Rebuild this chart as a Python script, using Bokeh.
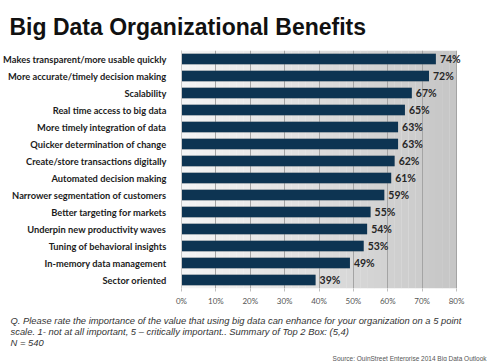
from bokeh.plotting import figure
from bokeh.models import ColumnDataSource, LabelSet, Range1d, FactorRange, FixedTicker, Title
from bokeh.core.properties import value
from bokeh.embed import file_html
from bokeh.resources import INLINE
import numpy as np

categories = [
    "Makes transparent/more usable quickly",
    "More accurate/timely decision making",
    "Scalability",
    "Real time access to big data",
    "More timely integration of data",
    "Quicker determination of change",
    "Create/store transactions digitally",
    "Automated decision making",
    "Narrower segmentation of customers",
    "Better targeting for markets",
    "Underpin new productivity waves",
    "Tuning of behavioral insights",
    "In-memory data management",
    "Sector oriented",
]
values = [74, 72, 67, 65, 63, 63, 62, 61, 59, 55, 54, 53, 49, 39]
tick_values = [0, 10, 20, 30, 40, 50, 60, 70, 80]
tick_labels = ["0%", "10%", "20%", "30%", "40%", "50%", "60%", "70%", "80%"]

title_text = "Big Data Organizational Benefits"
note1 = "Q. Please rate the importance of the value that using big data can enhance for your organization on a 5 point"
note2 = "scale. 1- not at all important, 5 \u2013 critically important..  Summary of Top 2 Box:  (5,4)"
note3 = "N = 540"
source_text = "Source: QuinStreet Enterprise 2014 Big Data Outlook"

W = 479
FL, FR = 173, 448
FW, FH = FR - FL, 238
EXTRA = 8  # px of white space right of the 80% line, so value labels are not clipped
NC = len(categories)
xmin, xmax = tick_values[0], tick_values[-1]
xpad = EXTRA * (xmax - xmin) / FW

src = ColumnDataSource(dict(cat=categories, val=values,
                            lab=[f"{v}%" for v in values]))

p = figure(frame_width=FW + EXTRA, frame_height=FH, output_backend="svg",
           toolbar_location=None,
           y_range=FactorRange(factors=categories[::-1]),
           x_range=Range1d(xmin, xmax + xpad),
           min_border_left=FL, min_border_right=W - FR - EXTRA,
           min_border_top=0, min_border_bottom=0)
p.outline_line_color = None
p.background_fill_color = "white"
p.border_fill_color = "white"

# title
p.title.text = title_text
p.title.align = "left"
p.title.offset = -FL + 1
p.title.text_font = "Liberation Sans"
p.title.text_font_size = "23px"
p.title.text_font_style = "bold"
p.title.text_color = "#111111"
p.title.standoff = 22

# background gradient strips (decoration)
edges = np.linspace(xmin, xmax, 41)
shades = np.linspace(245, 198, 40).astype(int)
cols = ["#%02x%02x%02x" % (s, s, s) for s in shades]
p.quad(left=edges[:-1], right=np.minimum(edges[1:] + 0.05, xmax), bottom=0, top=NC,
       color=cols, line_color=None, level="underlay")

# grid
p.ygrid.grid_line_color = None
p.xgrid.ticker = FixedTicker(ticks=tick_values)
p.xgrid.grid_line_color = "#a4a4a4"
p.xgrid.grid_line_width = 1
p.xgrid.level = "underlay"

# bar shadow + bars
p.hbar(y="cat", right="val", left=0, height=0.64, source=src,
       color="#9a9a9a", alpha=0.5, line_color=None)
p.hbar(y="cat", right="val", left=0, height=0.62, source=src,
       color="#0d3452", line_color=None)

labels = LabelSet(x="val", y="cat", text="lab", source=src, x_offset=4,
                  text_baseline="middle", text_font=value("Lato"),
                  text_font_style="bold", text_font_size=value("10.5px"),
                  text_color="#262626")
p.add_layout(labels)

# axes
p.xaxis.ticker = FixedTicker(ticks=tick_values)
p.xaxis.major_label_overrides = {v: t for v, t in zip(tick_values, tick_labels)}
p.xaxis.axis_line_color = None
p.xaxis.major_tick_line_color = "#c0c0c0"
p.xaxis.major_tick_out = 3
p.xaxis.major_tick_in = 0
p.xaxis.minor_tick_line_color = None
p.xaxis.major_label_text_font = "Lato"
p.xaxis.major_label_text_font_size = "8px"
p.xaxis.major_label_text_color = "#555555"
p.xaxis.major_label_standoff = 4

p.yaxis.axis_line_color = "#c8c8c8"
p.yaxis.major_tick_line_color = None
p.yaxis.minor_tick_line_color = None
p.yaxis.major_label_text_font = "Lato"
p.yaxis.major_label_text_font_style = "bold"
p.yaxis.major_label_text_font_size = "9.3px"
p.yaxis.major_label_text_color = "#1c1c1c"
p.yaxis.major_label_standoff = 9

notes = Title(text="\n".join([note1, note2, note3]), align="left",
              text_font="Liberation Sans", text_font_size="9.4px",
              text_font_style="italic", text_color="#333333",
              standoff=9, offset=-FL + 2)
p.add_layout(notes, "below")

source = Title(text=source_text, align="right", text_font="Liberation Sans",
               text_font_size="6.5px", text_font_style="normal",
               text_color="#555555", standoff=0,
               offset=-(W - FR - EXTRA) + 1)
p.add_layout(source, "below")

open("out.html", "w").write(file_html(p, INLINE))
